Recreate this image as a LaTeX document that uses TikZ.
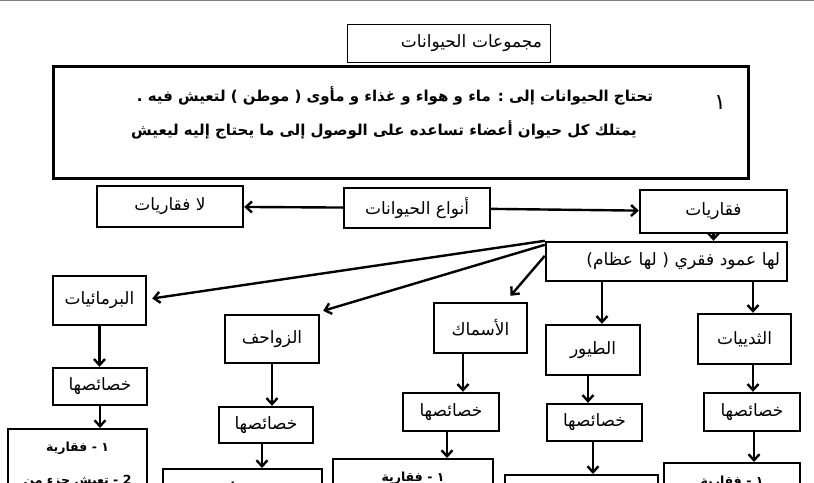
\documentclass[tikz,border=0pt]{standalone}
\usepackage{fontspec}
\newfontfamily\arabicfont[Script=Arabic]{DejaVu Sans}
\TeXXeTstate=1
\newcommand{\ar}[1]{{\arabicfont\beginR #1\endR}}
\usetikzlibrary{arrows.meta}

\begin{document}
\begin{tikzpicture}[x=1pt,y=-1pt,>={Straight Barb[length=6pt,width=11pt]},
  box/.style={draw,line width=2.4pt,inner sep=2pt,font=\fontsize{17}{19}\selectfont},
  kbox/.style={box,minimum width=94pt,minimum height=37pt},
  fbox/.style={box,anchor=north,inner xsep=4pt,inner ysep=13pt,align=center,
    font=\bfseries\fontsize{12.5}{33}\selectfont},
  arr/.style={->,line width=2.4pt}]
  \useasboundingbox (0,0) rectangle (814,482);
  \clip (0,0) rectangle (814,482);
  \draw[gray,line width=1.5pt] (0,0.5) -- (814,0.5);
  % title and the two facts
  \node[draw,line width=0.8pt,minimum width=203pt,minimum height=38pt,text width=187pt,
    align=right,inner sep=8pt,font=\fontsize{17}{19}\selectfont] (title) at (448.5,43) {\ar{مجموعات الحيوانات}};
  \node[draw,line width=3pt,minimum width=695pt,minimum height=112pt] (need) at (400.5,122) {};
  \node[font=\bfseries\fontsize{15}{17}\selectfont] (need1) at (395,96) {\ar{تحتاج الحيوانات إلى : ماء و هواء و غذاء و مأوى ( موطن ) لتعيش فيه .}};
  \node[font=\bfseries\fontsize{15}{17}\selectfont] (need2) at (384,130) {\ar{يمتلك كل حيوان أعضاء تساعده على الوصول إلى ما يحتاج إليه ليعيش}};
  \node[font=\fontsize{22}{24}\selectfont] (num) at (720,103) {\ar{١}};
  % kinds
  \node[box,minimum width=146pt,minimum height=41pt] (noverts) at (170,206.5) {\ar{لا فقاريات}};
  \node[box,minimum width=146pt,minimum height=40pt] (types) at (417,208) {\ar{أنواع الحيوانات}};
  \node[box,minimum width=147pt,minimum height=43pt] (verts) at (713.5,211.5) {\ar{فقاريات}};
  \node[box,minimum width=241pt,minimum height=39pt,text width=227pt,align=right] (spine) at (666.5,261.5) {\ar{لها عمود فقري ( لها عظام)}};
  \draw[arr] (types) -- (noverts);
  \draw[arr] (types) -- (verts);
  \draw[arr] (verts.south) -- (verts.south |- spine.north);
  % vertebrate groups
  \node[box,minimum width=93pt,minimum height=49pt] (amph) at (99.5,300.5) {\ar{البرمائيات}};
  \node[box,minimum width=94pt,minimum height=48pt] (rept) at (272,339) {\ar{الزواحف}};
  \node[box,minimum width=93pt,minimum height=50pt] (fish) at (480.5,328) {\ar{الأسماك}};
  \node[box,minimum width=94pt,minimum height=50pt] (birds) at (593,350) {\ar{الطيور}};
  \node[box,minimum width=93pt,minimum height=50pt] (mamm) at (744.5,339) {\ar{الثدييات}};
  \draw[arr] (spine.north west) -- ([xshift=5pt,yshift=2pt]amph.east);
  \draw[arr] ([yshift=-4pt]spine.north west) -- ([xshift=3pt,yshift=3pt]rept.north east);
  \draw[arr] ([yshift=-15pt]spine.north west) -- ([xshift=30pt,yshift=6pt]fish.north);
  \draw[arr] ([xshift=9pt]birds.north |- spine.south) -- ([xshift=9pt]birds.north);
  \draw[arr] ([xshift=8.5pt]mamm.north |- spine.south) -- ([xshift=8.5pt]mamm.north);
  % their features
  \node[kbox] (kamph) at (100,386.5) {\ar{خصائصها}};
  \node[kbox,minimum height=36pt] (krept) at (266,425) {\ar{خصائصها}};
  \node[kbox,minimum width=96pt,minimum height=38pt] (kfish) at (451,412) {\ar{خصائصها}};
  \node[kbox,minimum width=95pt] (kbirds) at (594.5,422.5) {\ar{خصائصها}};
  \node[kbox,minimum width=96pt,minimum height=38pt] (kmamm) at (752,412) {\ar{خصائصها}};
  \node[fbox,minimum width=139pt] (famph) at (77.5,428) {\ar{١ - فقارية}\\\ar{2 - تعيش جزء من}};
  \node[fbox,minimum width=159pt] (frept) at (242.5,468) {\ar{١ - فقارية}};
  \node[fbox,minimum width=160pt] (ffish) at (413,458) {\ar{١ - فقارية}};
  \node[fbox,minimum width=153pt] (fbirds) at (581.5,474) {\ar{١ - فقارية}};
  \node[fbox,minimum width=136pt] (fmamm) at (732,462) {\ar{١ - فقارية}};
  \draw[arr] (amph.south) -- (amph.south |- kamph.north);
  \draw[arr] (kamph.south) -- (kamph.south |- famph.north);
  \draw[arr] (rept.south) -- (rept.south |- krept.north);
  \draw[arr] ([xshift=-4pt]krept.south) -- ([xshift=-4pt]krept.south |- frept.north);
  \draw[arr] ([xshift=-17.5pt]fish.south) -- ([xshift=-17.5pt]fish.south |- kfish.north);
  \draw[arr] ([xshift=-4pt]kfish.south) -- ([xshift=-4pt]kfish.south |- ffish.north);
  \draw[arr] ([xshift=-5pt]birds.south) -- ([xshift=-5pt]birds.south |- kbirds.north);
  \draw[arr] ([xshift=-1.5pt]kbirds.south) -- ([xshift=-1.5pt]kbirds.south |- fbirds.north);
  \draw[arr] ([xshift=8.5pt]mamm.south) -- ([xshift=8.5pt]mamm.south |- kmamm.north);
  \draw[arr] ([xshift=2pt]kmamm.south) -- ([xshift=2pt]kmamm.south |- fmamm.north);
\end{tikzpicture}
\end{document}
